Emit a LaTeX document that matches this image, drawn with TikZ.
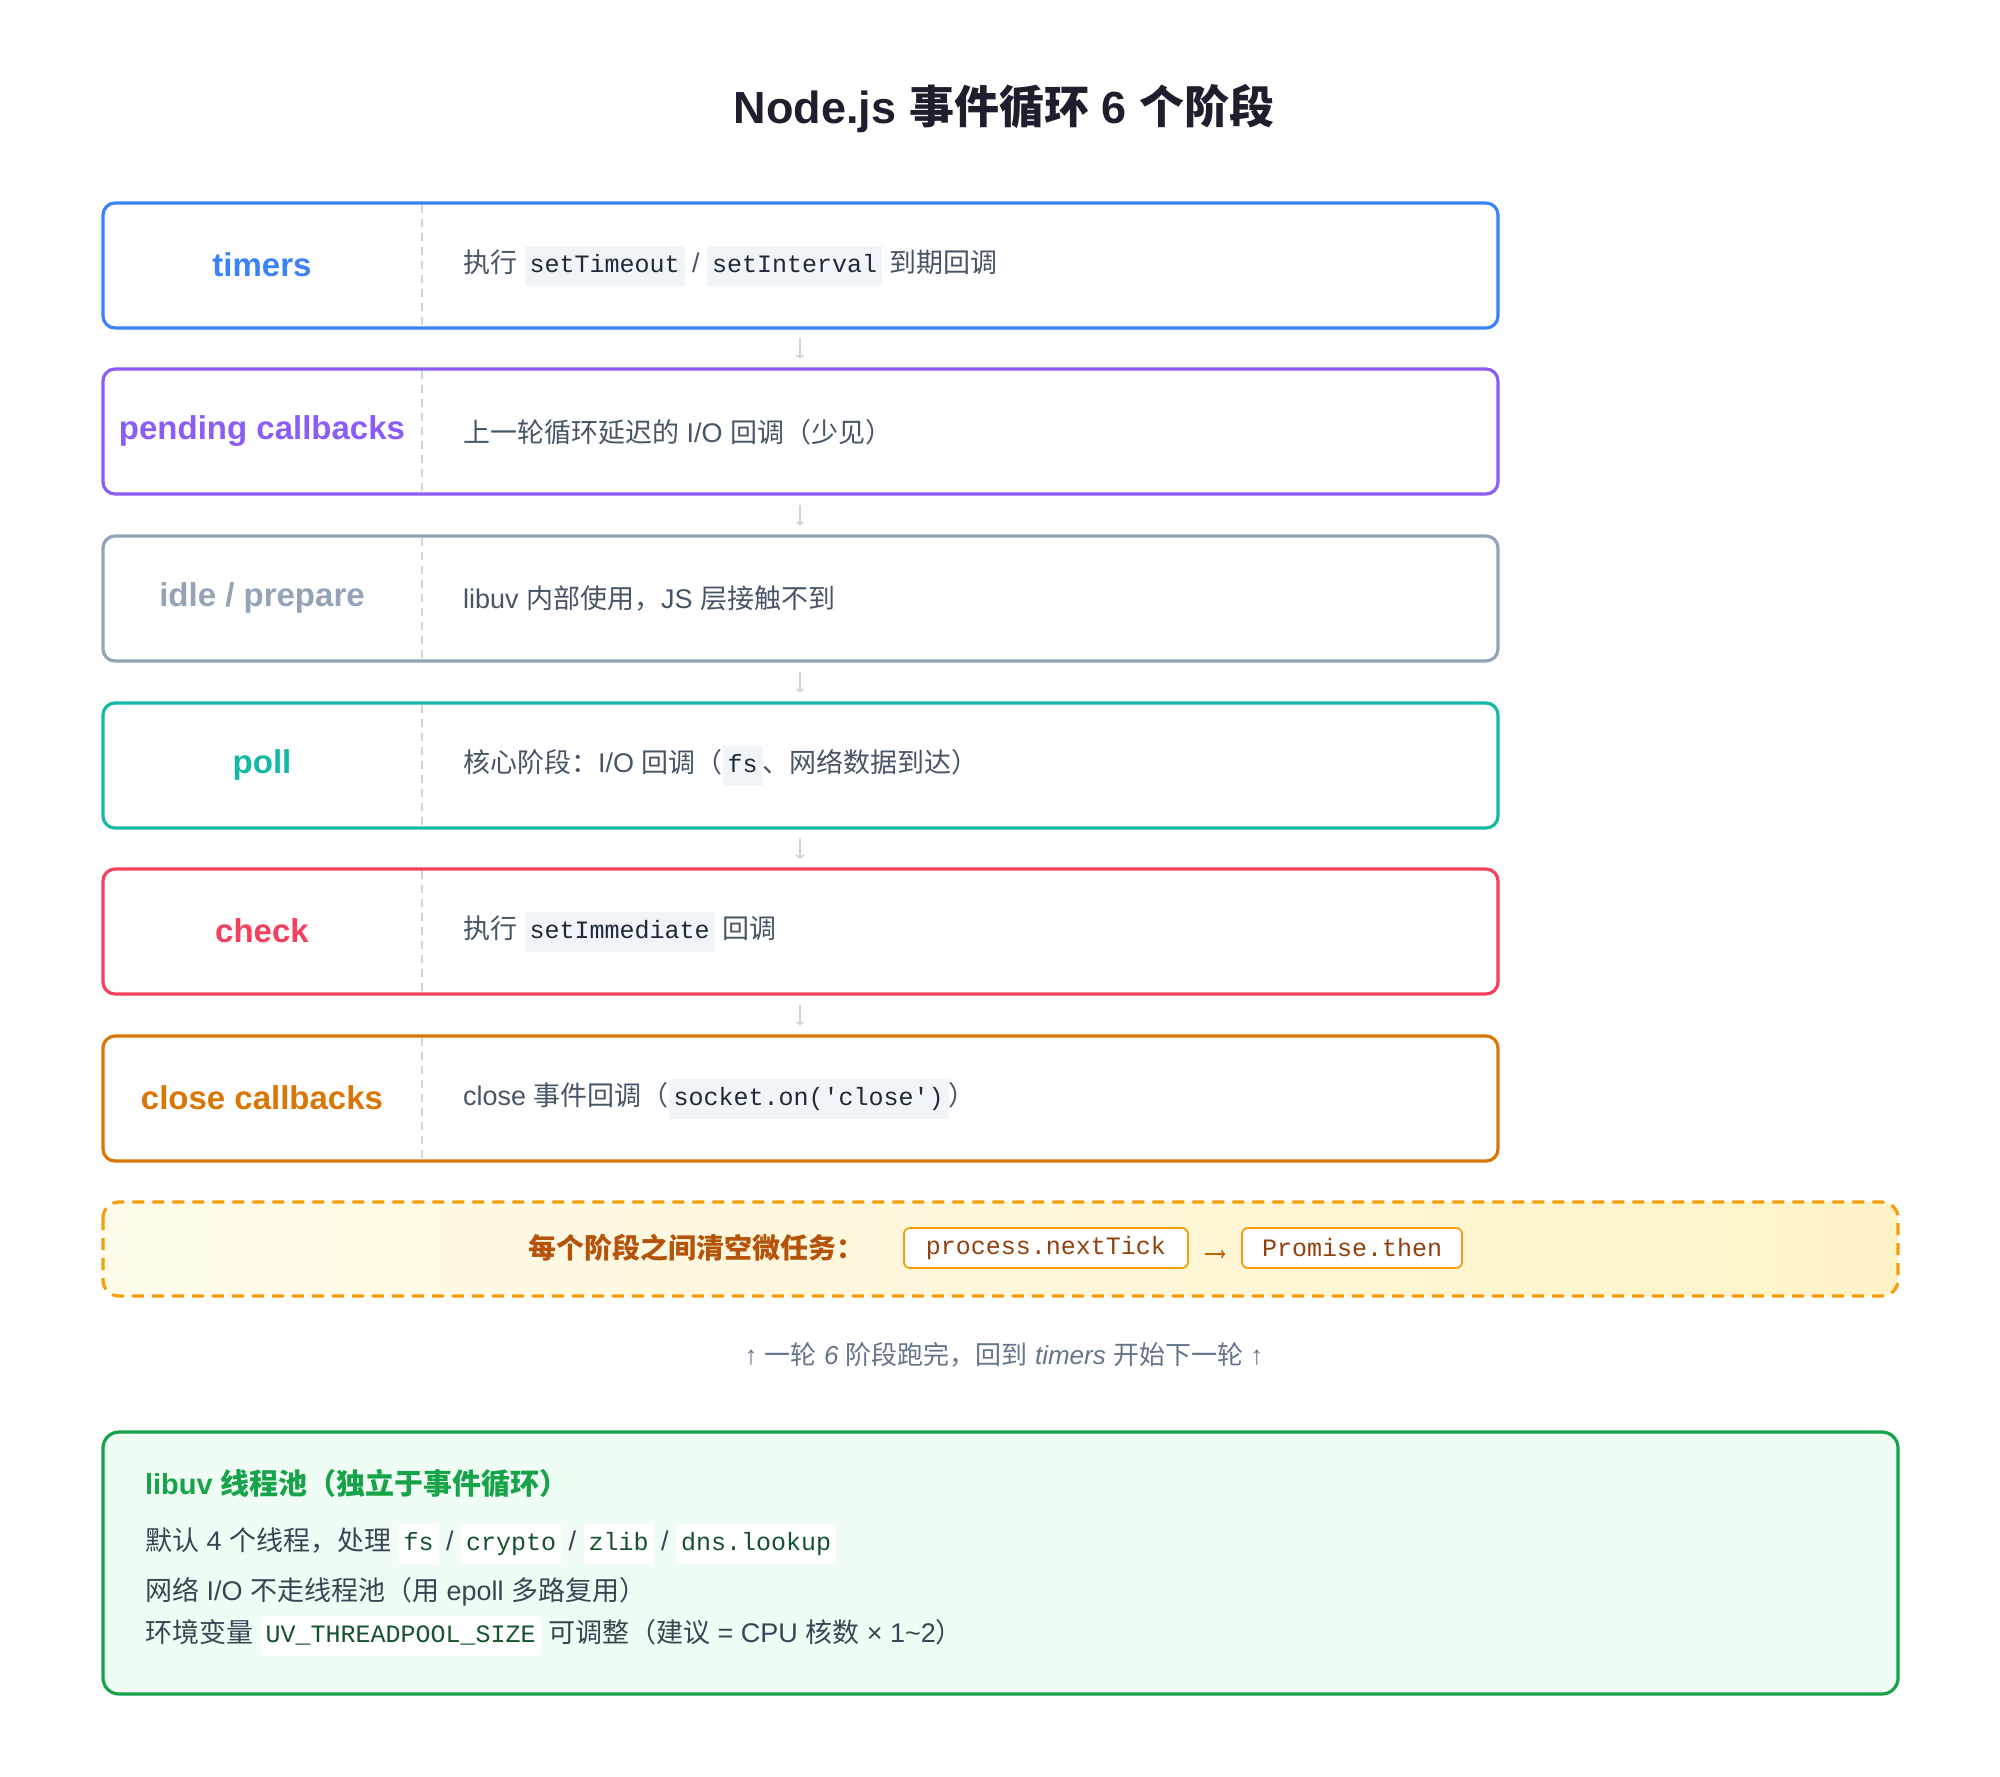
\documentclass[tikz,border=0pt]{standalone}
\usepackage{fontspec}
\setmainfont{Liberation Sans}
\setmonofont{Liberation Mono}
\newfontfamily\cjk{Noto Sans CJK SC}
\usetikzlibrary{shadings,arrows.meta}
\definecolor{cblue}{HTML}{3B82F6}
\definecolor{cpurple}{HTML}{8B5CF6}
\definecolor{cgray}{HTML}{94A3B8}
\definecolor{cteal}{HTML}{14B8A6}
\definecolor{cred}{HTML}{F43F5E}
\definecolor{corange}{HTML}{D97706}
\definecolor{desc}{HTML}{475569}
\definecolor{codebg}{HTML}{F1F5F9}
\definecolor{codefg}{HTML}{1E293B}
\definecolor{amb}{HTML}{F59E0B}
\definecolor{ambtext}{HTML}{B45309}
\definecolor{ambcode}{HTML}{92400E}
\definecolor{ambA}{HTML}{FFFBEB}
\definecolor{ambB}{HTML}{FEF3C7}
\definecolor{grn}{HTML}{16A34A}
\definecolor{grnbg}{HTML}{F0FDF4}
\definecolor{grncode}{HTML}{14532D}
\definecolor{grncodebg}{HTML}{FFFFFF}
\definecolor{note}{HTML}{64748B}
\definecolor{divc}{HTML}{CBD5E1}
\definecolor{titlec}{HTML}{1E1E2E}
\newcommand{\zh}[1]{{\cjk #1}}
\newcommand{\icode}[1]{{\setlength\fboxsep{2.5pt}\colorbox{codebg}{\color{codefg}\ttfamily\fontsize{12.5}{15}\selectfont\strut #1}}}
\newcommand{\gcode}[1]{{\setlength\fboxsep{2.5pt}\colorbox{grncodebg}{\color{grncode}\ttfamily\fontsize{12.5}{15}\selectfont\strut #1}}}
\begin{document}
\begin{tikzpicture}[x=1pt,y=1pt,
  phase/.style={draw=#1,line width=1.6pt,rounded corners=6pt,fill=white},
  lbl/.style={font=\fontsize{16.5}{20}\selectfont\bfseries,anchor=center},
  dsc/.style={font=\fontsize{13.5}{16}\selectfont,text=desc,anchor=west},
  flow/.style={draw=divc,line width=0.8pt,-{To[length=2pt]}},
]
\useasboundingbox (0,0) rectangle (1000,-888);
\node[font=\fontsize{22.5}{28}\selectfont\bfseries,text=titlec] (title) at (502,-54.5) {Node.js \zh{事件循环} 6 \zh{个阶段}};
\def\H{62.5}
\foreach \n/\t/\c in {1/101.5/cblue,2/184.5/cpurple,3/268/cgray,4/351.5/cteal,5/434.5/cred,6/518/corange}{
  \draw[phase=\c] (51.5,-\t) rectangle (749,-\t-\H);
  \draw[divc,line width=1pt,dash pattern=on 4pt off 3pt] (211,-\t-1) -- (211,-\t-\H+1);
  \coordinate (top\n) at (400,-\t);
  \coordinate (bot\n) at (400,-\t-\H);
}
\node[lbl,text=cblue] (l1) at (131,-132.5) {timers};
\node[lbl,text=cpurple] (l2) at (131,-215.5) {pending callbacks};
\node[lbl,text=cgray] (l3) at (131,-299) {idle / prepare};
\node[lbl,text=cteal] (l4) at (131,-382.5) {poll};
\node[lbl,text=cred] (l5) at (131,-465.5) {check};
\node[lbl,text=corange] (l6) at (131,-549) {close callbacks};
\node[dsc] (d1) at (228,-133) {\zh{执行} \icode{setTimeout} / \icode{setInterval} \zh{到期回调}};
\node[dsc] (d2) at (228,-216) {\zh{上一轮循环延迟的} I/O \zh{回调（少见）}};
\node[dsc] (d3) at (228,-299.5) {libuv \zh{内部使用，}JS \zh{层接触不到}};
\node[dsc] (d4) at (228,-383) {\zh{核心阶段：}I/O \zh{回调（}\icode{fs}\zh{、网络数据到达）}};
\node[dsc] (d5) at (228,-466) {\zh{执行} \icode{setImmediate} \zh{回调}};
\node[dsc] (d6) at (228,-549.5) {close \zh{事件回调（}\icode{socket.on('close')}\zh{）}};
\foreach \a/\b in {1/2,2/3,3/4,4/5,5/6}{
  \path (bot\a) -- (top\b) coordinate[pos=0.25] (s\a) coordinate[pos=0.75] (e\a);
  \draw[flow] (s\a) -- (e\a);
}
% microtask box
\shade[left color=ambA,right color=ambB,rounded corners=8pt] (51.5,-601) rectangle (949,-648);
\draw[amb,line width=1.6pt,dash pattern=on 6pt off 4pt,rounded corners=8pt] (51.5,-601) rectangle (949,-648);
\node[font=\fontsize{14}{17}\selectfont\bfseries,text=ambtext,anchor=east] (mt) at (436,-624) {\zh{每个阶段之间清空微任务：}};
\node[draw=amb,line width=0.9pt,rounded corners=3pt,fill=white,text=ambcode,font=\ttfamily\fontsize{12.5}{15}\selectfont,minimum height=20pt,minimum width=142pt] (nt) at (523,-624) {process.nextTick};
\node[draw=amb,line width=0.9pt,rounded corners=3pt,fill=white,text=ambcode,font=\ttfamily\fontsize{12.5}{15}\selectfont,minimum height=20pt,minimum width=110pt] (pt) at (676,-624) {Promise.then};
\draw[ambtext!80!amb,line width=0.8pt,-{To[length=2pt]}] ([xshift=8pt,yshift=-3pt]nt.east) -- ([xshift=-8pt,yshift=-3pt]pt.west);
\node[font=\fontsize{13}{16}\selectfont\itshape,text=note] (nt2) at (502,-677.5) {↑ \zh{一轮} 6 \zh{阶段跑完，回到} timers \zh{开始下一轮} ↑};
% threadpool
\draw[draw=grn,fill=grnbg,line width=1.6pt,rounded corners=8pt] (51.5,-716) rectangle (949,-847);
\node[anchor=west,font=\fontsize{14.5}{17}\selectfont\bfseries,text=grn] (gt) at (69,-742) {libuv \zh{线程池（独立于事件循环）}};
\node[anchor=west,font=\fontsize{13.5}{16}\selectfont,text=desc!80!black] (g1) at (69,-772) {\zh{默认} 4 \zh{个线程，处理} \gcode{fs} / \gcode{crypto} / \gcode{zlib} / \gcode{dns.lookup}};
\node[anchor=west,font=\fontsize{13.5}{16}\selectfont,text=desc!80!black] (g2) at (69,-796) {\zh{网络} I/O \zh{不走线程池（用} epoll \zh{多路复用）}};
\node[anchor=west,font=\fontsize{13.5}{16}\selectfont,text=desc!80!black] (g3) at (69,-818) {\zh{环境变量} \gcode{UV\_THREADPOOL\_SIZE} \zh{可调整（建议} = CPU \zh{核数} × 1\textasciitilde 2\zh{）}};
\end{tikzpicture}
\end{document}
